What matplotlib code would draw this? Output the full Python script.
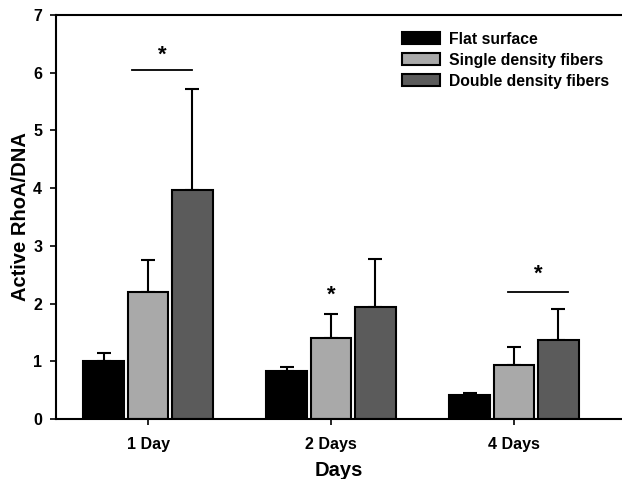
import numpy as np
import matplotlib
matplotlib.use('Agg')
import matplotlib.pyplot as plt

plt.rcParams['font.family'] = ['Liberation Sans', 'DejaVu Sans']
plt.rcParams['font.weight'] = 'bold'

### Data ###

groups = ['1 Day', '2 Days', '4 Days']
series_names = ['Flat surface', 'Single density fibers', 'Double density fibers']
series_colors = ['#000000', '#a9a9a9', '#5b5b5b']

flat_mean   = [1.00, 0.84, 0.42]
flat_err    = [0.15, 0.06, 0.04]
single_mean = [2.20, 1.41, 0.94]
single_err  = [0.56, 0.41, 0.31]
double_mean = [3.97, 1.95, 1.37]
double_err  = [1.75, 0.82, 0.54]

# significance marks: (x start, x end, y) for bracket lines, (x, y) for stars
sig_lines = [(-0.09, 0.24, 6.05), (1.965, 2.295, 2.2)]
sig_stars = [(0.08, 6.12), (1.0, 1.97), (2.13, 2.33)]

### Plot ###

fig = plt.figure(figsize=(6.22, 4.79), dpi=100)
ax = fig.add_axes([0.09, 0.125, 0.91, 0.844])

x = np.arange(len(groups))
width = 0.222
offset = 0.242

means = [flat_mean, single_mean, double_mean]
errs = [flat_err, single_err, double_err]

for i, (m, e) in enumerate(zip(means, errs)):
    pos = x + (i - 1) * offset
    ax.bar(pos, m, width, color=series_colors[i], edgecolor='black',
           linewidth=1.5, label=series_names[i], zorder=2)
    ax.errorbar(pos, m, yerr=[np.zeros(len(e)), e], fmt='none',
                ecolor='black', elinewidth=1.5, capsize=5, capthick=1.5,
                zorder=1)

for x0, x1, y in sig_lines:
    ax.plot([x0, x1], [y, y], color='black', linewidth=1.3)
for sx, sy in sig_stars:
    ax.text(sx, sy, '*', ha='center', va='bottom', fontsize=16, fontweight='bold')

ax.set_xlim(-0.503, 2.59)
ax.set_ylim(0, 7)
ax.set_xticks(x)
ax.set_xticklabels(groups)
ax.set_yticks(range(8))

ax.tick_params(axis='both', direction='out', length=4, width=1.2,
               labelsize=11.5)
ax.tick_params(axis='x', pad=9)
ax.tick_params(axis='y', pad=6)

ax.spines['right'].set_visible(False)
for side in ['left', 'top', 'bottom']:
    ax.spines[side].set_linewidth(1.5)

ax.set_xlabel('Days', fontsize=14.5, fontweight='bold', labelpad=6)
ax.set_ylabel('Active RhoA/DNA', fontsize=14.5, fontweight='bold', labelpad=2)

ax.legend(loc='upper left', bbox_to_anchor=(0.592, 0.985), frameon=False,
          fontsize=11.3, handlelength=2.4, handleheight=0.8,
          labelspacing=0.38, handletextpad=0.6, borderpad=0.2)

fig.savefig('out.png', dpi=100)
